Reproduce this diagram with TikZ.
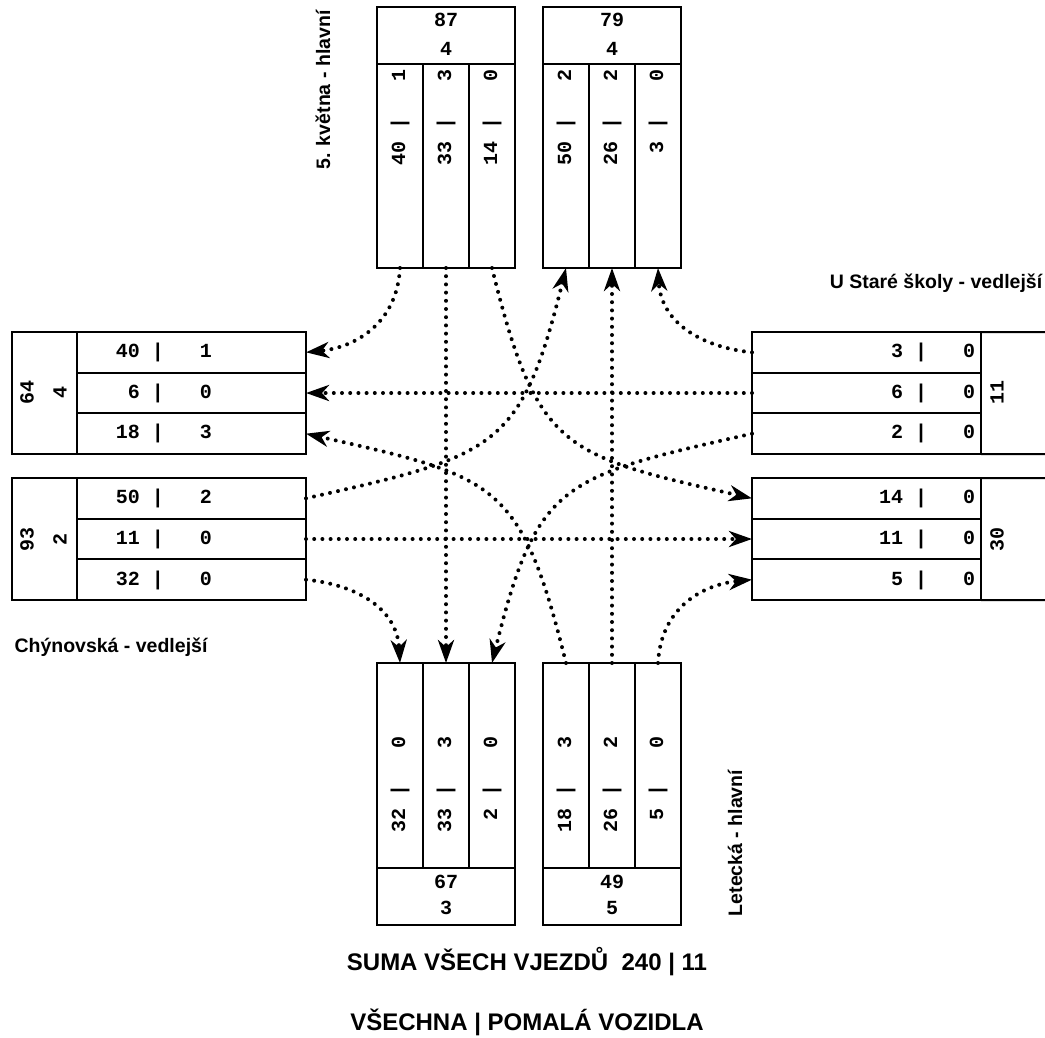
\documentclass[tikz,border=0pt]{standalone}
\usepackage{fontspec}
\setmainfont{Liberation Sans}
\newfontfamily\lanefont{Liberation Mono}
\usetikzlibrary{arrows.meta}
\begin{document}
\begin{tikzpicture}[x=1pt,y=-1pt,
  cell/.style={draw, line width=2pt, inner sep=0pt, outer sep=0pt, anchor=north west},
  num/.style={font=\lanefont\bfseries\fontsize{20}{20}\selectfont, inner sep=0pt},
  lbl/.style={font=\bfseries\fontsize{19.5}{20}\selectfont, inner sep=0pt},
  biglbl/.style={font=\bfseries\fontsize{24}{24}\selectfont, inner sep=0pt},
  conn/.style={line width=4pt, line cap=round, dash pattern=on 0pt off 8.2pt,
    -{Stealth[length=23pt,width=16pt,inset=7pt]}}]
\useasboundingbox (0,0) rectangle (1045,1037);
% ---- top-left box (5. kvetna, entries)
\node[cell, minimum width=138pt, minimum height=57pt] (tl0) at (377,7) {};
\node[cell, minimum width=46pt, minimum height=204pt] (tl1) at (377,64) {};
\node[cell, minimum width=46pt, minimum height=204pt] (tl2) at (423,64) {};
\node[cell, minimum width=46pt, minimum height=204pt] (tl3) at (469,64) {};
% ---- top-right box
\node[cell, minimum width=138pt, minimum height=57pt] (tr0) at (543,7) {};
\node[cell, minimum width=46pt, minimum height=204pt] (tr1) at (543,64) {};
\node[cell, minimum width=46pt, minimum height=204pt] (tr2) at (589,64) {};
\node[cell, minimum width=46pt, minimum height=204pt] (tr3) at (635,64) {};
% ---- bottom-left box
\node[cell, minimum width=46pt, minimum height=205pt] (bl1) at (377,663) {};
\node[cell, minimum width=46pt, minimum height=205pt] (bl2) at (423,663) {};
\node[cell, minimum width=46pt, minimum height=205pt] (bl3) at (469,663) {};
\node[cell, minimum width=138pt, minimum height=57pt] (bl0) at (377,868) {};
% ---- bottom-right box
\node[cell, minimum width=46pt, minimum height=205pt] (br1) at (543,663) {};
\node[cell, minimum width=46pt, minimum height=205pt] (br2) at (589,663) {};
\node[cell, minimum width=46pt, minimum height=205pt] (br3) at (635,663) {};
\node[cell, minimum width=138pt, minimum height=57pt] (br0) at (543,868) {};
% ---- left upper box
\node[cell, minimum width=65pt, minimum height=122pt] (lu0) at (12,332) {};
\node[cell, minimum width=229pt, minimum height=40.67pt] (lu1) at (77,332) {};
\node[cell, minimum width=229pt, minimum height=40.67pt] (lu2) at (77,372.67) {};
\node[cell, minimum width=229pt, minimum height=40.67pt] (lu3) at (77,413.33) {};
% ---- left lower box
\node[cell, minimum width=65pt, minimum height=122pt] (ll0) at (12,478) {};
\node[cell, minimum width=229pt, minimum height=40.67pt] (ll1) at (77,478) {};
\node[cell, minimum width=229pt, minimum height=40.67pt] (ll2) at (77,518.67) {};
\node[cell, minimum width=229pt, minimum height=40.67pt] (ll3) at (77,559.33) {};
% ---- right upper box
\node[cell, minimum width=229pt, minimum height=40.67pt] (ru1) at (752,332) {};
\node[cell, minimum width=229pt, minimum height=40.67pt] (ru2) at (752,372.67) {};
\node[cell, minimum width=229pt, minimum height=40.67pt] (ru3) at (752,413.33) {};
\draw[line width=2pt] (ru1.north east) -- (1046,332) (ru3.south east) -- (1046,454);
% ---- right lower box
\node[cell, minimum width=229pt, minimum height=40.67pt] (rl1) at (752,478) {};
\node[cell, minimum width=229pt, minimum height=40.67pt] (rl2) at (752,518.67) {};
\node[cell, minimum width=229pt, minimum height=40.67pt] (rl3) at (752,559.33) {};
\draw[line width=2pt] (rl1.north east) -- (1046,478) (rl3.south east) -- (1046,600);
% ---- texts: top
\node[num] (tl0a) at (446,20) {87};
\node[num] (tl0b) at (446,49) {4};
\node[num] (tr0a) at (612,20) {79};
\node[num] (tr0b) at (612,49) {4};
\node[num, rotate=90] (tl1t) at (400,117) {40~|~~~1};
\node[num, rotate=90] (tl2t) at (446,117) {33~|~~~3};
\node[num, rotate=90] (tl3t) at (492,117) {14~|~~~0};
\node[num, rotate=90] (tr1t) at (566,117) {50~|~~~2};
\node[num, rotate=90] (tr2t) at (612,117) {26~|~~~2};
\node[num, rotate=90] (tr3t) at (658,117) {~3~|~~~0};
% ---- texts: bottom
\node[num, rotate=90] (bl1t) at (400,784) {32~|~~~0};
\node[num, rotate=90] (bl2t) at (446,784) {33~|~~~3};
\node[num, rotate=90] (bl3t) at (492,784) {~2~|~~~0};
\node[num, rotate=90] (br1t) at (566,784) {18~|~~~3};
\node[num, rotate=90] (br2t) at (612,784) {26~|~~~2};
\node[num, rotate=90] (br3t) at (658,784) {~5~|~~~0};
\node[num] (bl0a) at (446,882) {67};
\node[num] (bl0b) at (446,908) {3};
\node[num] (br0a) at (612,882) {49};
\node[num] (br0b) at (612,908) {5};
% ---- texts: left
\node[num, rotate=90] (lu0a) at (27,392) {64};
\node[num, rotate=90] (lu0b) at (60,392) {4};
\node[num] (lu1t) at (164,352) {40~|~~~1};
\node[num] (lu2t) at (164,393) {~6~|~~~0};
\node[num] (lu3t) at (164,433) {18~|~~~3};
\node[num, rotate=90] (ll0a) at (27,539) {93};
\node[num, rotate=90] (ll0b) at (60,539) {2};
\node[num] (ll1t) at (164,498) {50~|~~~2};
\node[num] (ll2t) at (164,539) {11~|~~~0};
\node[num] (ll3t) at (164,580) {32~|~~~0};
% ---- texts: right
\node[num] (ru1t) at (927,352) {~3~|~~~0};
\node[num] (ru2t) at (927,393) {~6~|~~~0};
\node[num] (ru3t) at (927,433) {~2~|~~~0};
\node[num, rotate=90] (ru0a) at (997,392) {11};
\node[num] (rl1t) at (927,498) {14~|~~~0};
\node[num] (rl2t) at (927,539) {11~|~~~0};
\node[num] (rl3t) at (927,580) {~5~|~~~0};
\node[num, rotate=90] (rl0a) at (997,539) {30};
% ---- street labels
\node[lbl, rotate=90] (n5k) at (323,90) {5. května - hlavní};
\node[lbl] (nus) at (936,283) {U Staré školy - vedlejší};
\node[lbl] (nch) at (111,647) {Chýnovská - vedlejší};
\node[lbl, rotate=90] (nle) at (735,843) {Letecká - hlavní};
\node[biglbl] (sum1) at (527,962) {SUMA VŠECH VJEZDŮ \ 240 | 11};
\node[biglbl] (sum2) at (527,1022) {VŠECHNA | POMALÁ VOZIDLA};
% ---- connectors
\draw[conn] (tl1.south) .. controls +(-3,55) and +(50,-5) .. (lu1.east);
\draw[conn] (tl2.south) -- (bl2.north);
\draw[conn] (tl3.south) .. controls +(45,182) and +(-190,-43) .. (rl1.west);
\draw[conn] (ll1.east) .. controls +(190,-43) and +(-45,182) .. (tr1.south);
\draw[conn] (ll2.east) -- (rl2.west);
\draw[conn] (ll3.east) .. controls +(50,5) and +(-3,-55) .. (bl1.north);
\draw[conn] (br1.north) .. controls +(-45,-182) and +(190,43) .. (lu3.east);
\draw[conn] (br2.north) -- (tr2.south);
\draw[conn] (br3.north) .. controls +(3,-55) and +(-50,5) .. (rl3.west);
\draw[conn] (ru1.west) .. controls +(-50,-5) and +(3,55) .. (tr3.south);
\draw[conn] (ru2.west) -- (lu2.east);
\draw[conn] (ru3.west) .. controls +(-190,43) and +(45,-182) .. (bl3.north);
\end{tikzpicture}
\end{document}
